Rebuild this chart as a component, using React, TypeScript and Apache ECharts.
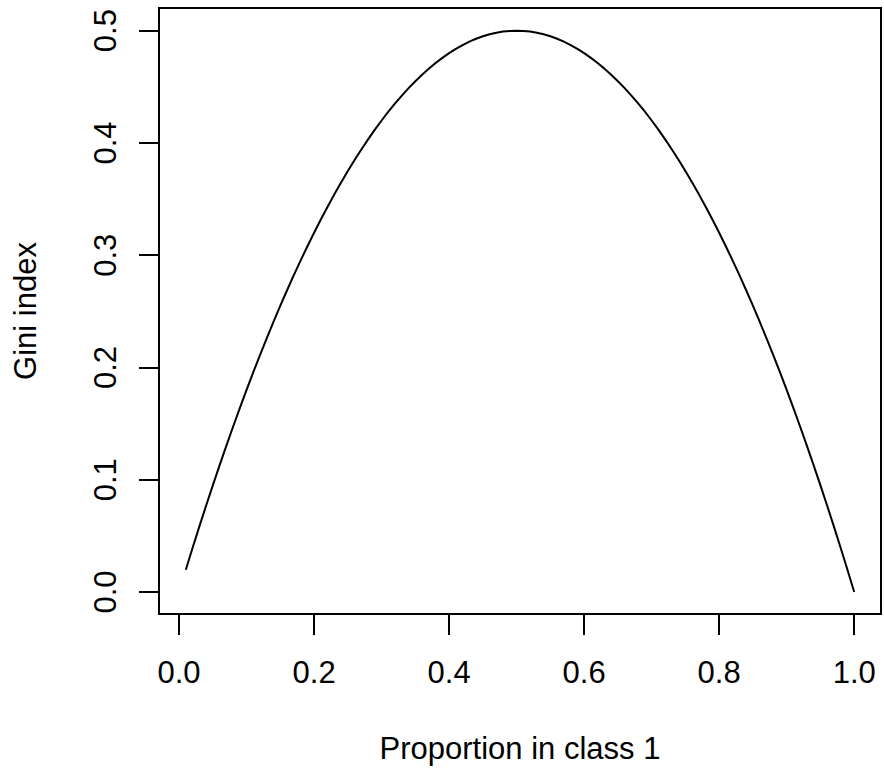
import React, { useEffect, useRef } from "react";
import * as echarts from "echarts";

const proportion = [
  0.01, 0.02, 0.03, 0.04, 0.05, 0.06, 0.07, 0.08, 0.09, 0.1,
  0.11, 0.12, 0.13, 0.14, 0.15, 0.16, 0.17, 0.18, 0.19, 0.2,
  0.21, 0.22, 0.23, 0.24, 0.25, 0.26, 0.27, 0.28, 0.29, 0.3,
  0.31, 0.32, 0.33, 0.34, 0.35, 0.36, 0.37, 0.38, 0.39, 0.4,
  0.41, 0.42, 0.43, 0.44, 0.45, 0.46, 0.47, 0.48, 0.49, 0.5,
  0.51, 0.52, 0.53, 0.54, 0.55, 0.56, 0.57, 0.58, 0.59, 0.6,
  0.61, 0.62, 0.63, 0.64, 0.65, 0.66, 0.67, 0.68, 0.69, 0.7,
  0.71, 0.72, 0.73, 0.74, 0.75, 0.76, 0.77, 0.78, 0.79, 0.8,
  0.81, 0.82, 0.83, 0.84, 0.85, 0.86, 0.87, 0.88, 0.89, 0.9,
  0.91, 0.92, 0.93, 0.94, 0.95, 0.96, 0.97, 0.98, 0.99, 1.0,
];

const gini = [
  0.0198, 0.0392, 0.0582, 0.0768, 0.095, 0.1128, 0.1302, 0.1472, 0.1638, 0.18,
  0.1958, 0.2112, 0.2262, 0.2408, 0.255, 0.2688, 0.2822, 0.2952, 0.3078, 0.32,
  0.3318, 0.3432, 0.3542, 0.3648, 0.375, 0.3848, 0.3942, 0.4032, 0.4118, 0.42,
  0.4278, 0.4352, 0.4422, 0.4488, 0.455, 0.4608, 0.4662, 0.4712, 0.4758, 0.48,
  0.4838, 0.4872, 0.4902, 0.4928, 0.495, 0.4968, 0.4982, 0.4992, 0.4998, 0.5,
  0.4998, 0.4992, 0.4982, 0.4968, 0.495, 0.4928, 0.4902, 0.4872, 0.4838, 0.48,
  0.4758, 0.4712, 0.4662, 0.4608, 0.455, 0.4488, 0.4422, 0.4352, 0.4278, 0.42,
  0.4118, 0.4032, 0.3942, 0.3848, 0.375, 0.3648, 0.3542, 0.3432, 0.3318, 0.32,
  0.3078, 0.2952, 0.2822, 0.2688, 0.255, 0.2408, 0.2262, 0.2112, 0.1958, 0.18,
  0.1638, 0.1472, 0.1302, 0.1128, 0.095, 0.0768, 0.0582, 0.0392, 0.0198, 0,
];

const xTicks = [0, 0.2, 0.4, 0.6, 0.8, 1.0];
const yTicks = [0, 0.1, 0.2, 0.3, 0.4, 0.5];

const xTitle = "Proportion in class 1";
const yTitle = "Gini index";

const FONT = "'Liberation Sans', Arial, Helvetica, sans-serif";

export default function App() {
  const ref = useRef<HTMLDivElement>(null);

  useEffect(() => {
    if (!ref.current) return;
    const chart = echarts.init(ref.current, undefined, { renderer: "svg" });
    const data = proportion.map((p, i) => [p, gini[i]]);
    chart.setOption({
      animation: false,
      backgroundColor: "#ffffff",
      grid: {
        left: 159,
        right: 3,
        top: 8,
        bottom: 161,
        show: true,
        borderColor: "#000",
        borderWidth: 2,
        backgroundColor: "transparent",
      },
      xAxis: {
        type: "value",
        min: -0.0297,
        max: 1.0397,
        name: xTitle,
        nameLocation: "middle",
        nameGap: 119,
        nameTextStyle: { color: "#000", fontSize: 31, fontFamily: FONT },
        axisLine: { show: false, onZero: false },
        splitLine: { show: false },
        axisTick: {
          show: true,
          inside: false,
          length: 21,
          customValues: xTicks,
          lineStyle: { color: "#000", width: 2 },
        },
        axisLabel: {
          show: true,
          customValues: xTicks,
          margin: 43,
          color: "#000",
          fontSize: 31,
          fontFamily: FONT,
          formatter: (v: number) => v.toFixed(1),
        },
      },
      yAxis: {
        type: "value",
        min: -0.0196,
        max: 0.5202,
        name: yTitle,
        nameLocation: "middle",
        nameRotate: 90,
        nameGap: 118,
        nameTextStyle: { color: "#000", fontSize: 31, fontFamily: FONT },
        axisLine: { show: false, onZero: false },
        splitLine: { show: false },
        axisTick: {
          show: true,
          inside: false,
          length: 20,
          customValues: yTicks,
          lineStyle: { color: "#000", width: 2 },
        },
        axisLabel: {
          show: true,
          customValues: yTicks,
          rotate: 90,
          margin: 38,
          color: "#000",
          fontSize: 31,
          fontFamily: FONT,
          formatter: (v: number) => v.toFixed(1),
        },
      },
      series: [
        {
          type: "line",
          data,
          showSymbol: false,
          smooth: false,
          clip: false,
          lineStyle: { color: "#000", width: 2 },
        },
      ],
    });
    return () => chart.dispose();
  }, []);

  return (
    <div
      ref={ref}
      style={{ position: "absolute", left: 0, top: 0, width: 884, height: 775 }}
    />
  );
}
